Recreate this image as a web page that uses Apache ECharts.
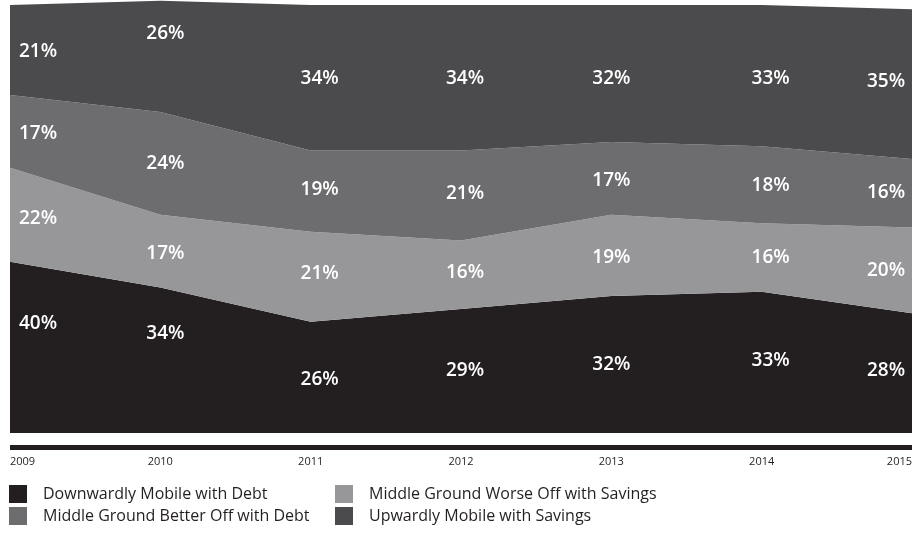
<!DOCTYPE html>
<html>
<head>
<meta charset="utf-8">
<script src="https://cdn.jsdelivr.net/npm/echarts@6/dist/echarts.min.js"></script>
<style>
  html, body { margin: 0; padding: 0; background: #ffffff; }
  #chart { width: 918px; height: 535px; }
</style>
</head>
<body>
<div id="chart"></div>
<script>
// Years on the horizontal axis
const years = ['2009', '2010', '2011', '2012', '2013', '2014', '2015'];

// Share of households in each group (%), stacked bottom to top
const downwardDebt   = [40, 34, 26, 29, 32, 33, 28];
const middleWorseSav = [22, 17, 21, 16, 19, 16, 20];
const middleBetterDebt = [17, 24, 19, 21, 17, 18, 16];
const upwardSavings  = [21, 26, 34, 34, 32, 33, 35];

const seriesNames = [
  'Downwardly Mobile with Debt',
  'Middle Ground Worse Off with Savings',
  'Middle Ground Better Off with Debt',
  'Upwardly Mobile with Savings'
];
const seriesData = [downwardDebt, middleWorseSav, middleBetterDebt, upwardSavings];
const colors = ['#231f20', '#97979a', '#6d6d70', '#4b4b4d'];

// Fine-tuning of individual label positions [x, y] per series and year
const labelNudge = [
  [[28, -24], [5, -27], [9, 2], [4, 0], [0, 0], [9, -2], [-26, -2]],
  [[28, 4],   [5, 2],   [9, -3], [4, -2], [0, 2], [9, 0], [-26, 0]],
  [[28, 2],   [5, 0],   [9, -2], [4, -2], [0, 2], [9, 1], [-26, -1]],
  [[28, 2],   [5, -25], [9, 1], [4, 1], [0, 5], [9, 3], [-26, -3]]
];

const labelFont = 'Open Sans, Lato, sans-serif';

const areaSeries = seriesData.map((d, i) => ({
  name: seriesNames[i],
  type: 'line',
  stack: 'share',
  data: d,
  symbol: 'none',
  clip: false,
  lineStyle: { width: 0 },
  itemStyle: { color: colors[i] },
  areaStyle: { color: colors[i], opacity: 1 },
  z: 2
}));

// Transparent stacked bars carry the percentage text at each band's centre
const labelSeries = seriesData.map((d, i) => ({
  name: 'lbl' + i,
  type: 'bar',
  stack: 'labels',
  barWidth: 2,
  silent: true,
  itemStyle: { color: 'rgba(0,0,0,0)' },
  data: d.map((v, j) => ({
    value: v,
    label: { offset: labelNudge[i][j] }
  })),
  label: {
    show: true,
    position: 'inside',
    formatter: '{c}%',
    color: '#ffffff',
    fontFamily: labelFont,
    fontWeight: 600,
    fontSize: 19
  },
  z: 5
}));

const legendItem = (name, left, top) => ({
  data: [name],
  left: left,
  top: top,
  orient: 'horizontal',
  icon: 'rect',
  itemWidth: 18,
  itemHeight: 18,
  itemGap: 0,
  selectedMode: false,
  textStyle: {
    fontFamily: labelFont,
    fontSize: 16,
    color: '#231f20',
    padding: [0, 0, 0, 11]
  }
});

const chart = echarts.init(document.getElementById('chart'), null, { renderer: 'canvas' });
chart.setOption({
  animation: false,
  backgroundColor: '#ffffff',
  color: colors,
  grid: { left: 10, right: 6, top: 5, bottom: 102, containLabel: false },
  xAxis: {
    type: 'category',
    data: years,
    boundaryGap: false,
    offset: 14,
    axisLine: { show: true, onZero: false, lineStyle: { color: '#231f20', width: 5, cap: 'butt' } },
    axisTick: { show: false },
    axisLabel: {
      color: '#231f20',
      fontFamily: labelFont,
      fontSize: 11,
      margin: 9,
      alignMinLabel: 'left',
      alignMaxLabel: 'right'
    },
    splitLine: { show: false }
  },
  yAxis: {
    type: 'value',
    min: 0,
    max: 100,
    show: false,
    splitLine: { show: false }
  },
  legend: [
    legendItem(seriesNames[0], 4, 480),
    legendItem(seriesNames[1], 330, 480),
    legendItem(seriesNames[2], 4, 502),
    legendItem(seriesNames[3], 330, 502)
  ],
  series: areaSeries.concat(labelSeries)
});
</script>
</body>
</html>
